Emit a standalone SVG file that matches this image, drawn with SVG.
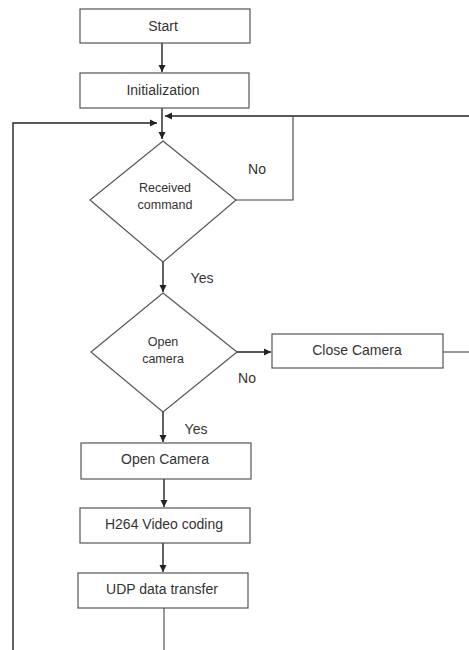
<svg xmlns="http://www.w3.org/2000/svg" width="469" height="650" viewBox="0 0 469 650">
<defs>
<marker id="ah" markerWidth="8" markerHeight="8" refX="7" refY="4" orient="auto" markerUnits="userSpaceOnUse">
<path d="M0,0.5 L7,4 L0,7.5 Z" fill="#222"/>
</marker>
<style>
.box{fill:#fff;stroke:#555;stroke-width:1.2}
.t{font-family:"Liberation Sans",Arial,sans-serif;font-size:14px;fill:#333;text-anchor:middle}
.s{font-family:"Liberation Sans",Arial,sans-serif;font-size:12.5px;fill:#333;text-anchor:middle}
.c{fill:none;stroke:#444;stroke-width:1.1}
.a{fill:none;stroke:#222;stroke-width:1.4;marker-end:url(#ah)}
</style>
</defs>
<rect width="469" height="650" fill="#fff"/>
<g id="connectors">
<line class="a" x1="162" y1="43" x2="162" y2="72"/>
<line class="a" x1="162" y1="108" x2="162" y2="139"/>
<polyline class="a" points="13,650 13,123 157,123"/>
<line class="a" x1="469" y1="116" x2="165" y2="116"/>
<polyline class="c" points="236,200 293,200 293,116"/>
<line class="a" x1="163" y1="262" x2="163" y2="292"/>
<line class="a" x1="237" y1="352" x2="271" y2="352"/>
<line class="c" x1="443" y1="352" x2="469" y2="352"/>
<line class="a" x1="163" y1="412" x2="163" y2="442"/>
<line class="a" x1="164" y1="479" x2="164" y2="507"/>
<line class="a" x1="163" y1="543" x2="163" y2="572"/>
<line class="c" x1="164" y1="608" x2="164" y2="650"/>
<text class="t" x="257" y="174">No</text>
<text class="t" x="202" y="283">Yes</text>
<text class="t" x="247" y="383">No</text>
<text class="t" x="196" y="434">Yes</text>
</g>
<g id="start"><rect class="box" x="80" y="9" width="170" height="34"/><text class="t" x="163" y="31">Start</text></g>
<g id="init"><rect class="box" x="80" y="73" width="169" height="35"/><text class="t" x="163" y="95">Initialization</text></g>
<g id="received"><polygon class="box" points="163,141 236,200 163,262 90,200"/><text class="s" x="165" y="192">Received</text><text class="s" x="165" y="209">command</text></g>
<g id="opencam-q"><polygon class="box" points="163,293 237,352 163,412 91,352"/><text class="s" x="163" y="346">Open</text><text class="s" x="163" y="363">camera</text></g>
<g id="close"><rect class="box" x="272" y="334" width="171" height="34"/><text class="t" x="357" y="355">Close Camera</text></g>
<g id="opencam"><rect class="box" x="81" y="443" width="170" height="36"/><text class="t" x="165" y="464">Open Camera</text></g>
<g id="h264"><rect class="box" x="80" y="508" width="170" height="35"/><text class="t" x="164" y="529">H264 Video coding</text></g>
<g id="udp"><rect class="box" x="78" y="573" width="170" height="35"/><text class="t" x="162" y="594">UDP data transfer</text></g>
</svg>
